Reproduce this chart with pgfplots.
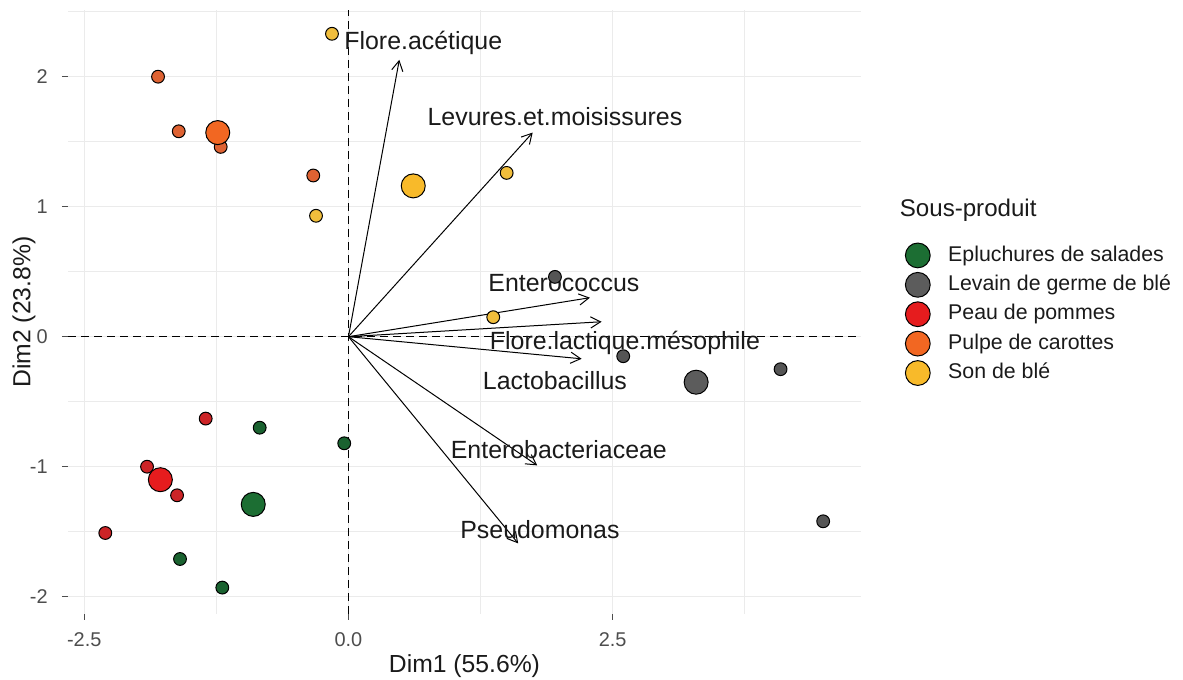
\documentclass[border=0pt]{standalone}
\usepackage{fontspec}
\setmainfont{Liberation Sans}
\usepackage{pgfplots}
\pgfplotsset{compat=1.18}
\usetikzlibrary{arrows.meta}

\definecolor{cgreen}{HTML}{1C6E33}
\definecolor{cgreenS}{HTML}{1A6230}
\definecolor{cgray}{HTML}{5C5C5C}
\definecolor{cgrayS}{HTML}{555555}
\definecolor{cred}{HTML}{E61C1E}
\definecolor{credS}{HTML}{CC2427}
\definecolor{corange}{HTML}{F26722}
\definecolor{corangeS}{HTML}{DE6232}
\definecolor{cyellow}{HTML}{F8BA2A}
\definecolor{cyellowS}{HTML}{F1BE3C}
\definecolor{gridc}{HTML}{EBEBEB}
\definecolor{tickc}{HTML}{4D4D4D}
\definecolor{txtc}{HTML}{1A1A1A}

\begin{document}
\begin{tikzpicture}
\useasboundingbox (0,0) rectangle (591.5bp,340bp);
\begin{axis}[
  at={(34bp,33.2bp)}, anchor=south west,
  scale only axis, width=396.5bp, height=301.6bp,
  xmin=-2.654, xmax=4.85, ymin=-2.13, ymax=2.51,
  axis line style={draw=none},
  xtick={-2.5,0,2.5}, xticklabels={-2.5,0.0,2.5},
  ytick={-2,-1,0,1,2}, yticklabels={-2,-1,0,1,2},
  minor xtick={-1.25,1.25,3.75}, minor ytick={-1.5,-0.5,0.5,1.5,2.5},
  grid=both,
  major grid style={draw=gridc, line width=0.6bp},
  minor grid style={draw=gridc, line width=0.35bp},
  xtick pos=lower, ytick pos=left, tick align=outside,
  major tick length=3bp, minor tick length=0pt,
  tick style={draw=tickc, line width=0.5bp},
  tick label style={font=\fontsize{10}{12}\selectfont, text=tickc},
  xticklabel style={inner sep=0pt, yshift=-6.5bp},
  yticklabel style={inner sep=0pt, xshift=-7bp},
  xlabel={Dim1 (55.6\%)}, ylabel={Dim2 (23.8\%)},
  every axis x label/.style={at={(axis description cs:0.5,-0.087)}, anchor=center, font=\fontsize{12.4}{14}\selectfont, text=txtc},
  every axis y label/.style={at={(axis description cs:-0.0555,0.5)}, rotate=90, anchor=center, font=\fontsize{12.4}{14}\selectfont, text=txtc},
  clip=false,
  legend style={at={(axis description cs:1.0555,0.615)}, anchor=north west,
    draw=none, fill=none, inner sep=0pt, row sep=2.3bp, column sep=9bp,
    font=\fontsize{10.7}{12.8}\selectfont,
    nodes={inner sep=0pt, text height=8bp, text depth=2.3bp, text=txtc}},
  legend cell align=left,
  legend image code/.code={\draw[#1] plot coordinates {(0bp,0bp)};},
]
% legend
\addlegendimage{only marks, mark=*, mark size=6.2bp, mark options={fill=cgreen, draw=black, line width=0.5bp}}
\addlegendentry{Epluchures de salades}
\addlegendimage{only marks, mark=*, mark size=6.2bp, mark options={fill=cgray, draw=black, line width=0.5bp}}
\addlegendentry{Levain de germe de blé}
\addlegendimage{only marks, mark=*, mark size=6.2bp, mark options={fill=cred, draw=black, line width=0.5bp}}
\addlegendentry{Peau de pommes}
\addlegendimage{only marks, mark=*, mark size=6.2bp, mark options={fill=corange, draw=black, line width=0.5bp}}
\addlegendentry{Pulpe de carottes}
\addlegendimage{only marks, mark=*, mark size=6.2bp, mark options={fill=cyellow, draw=black, line width=0.5bp}}
\addlegendentry{Son de blé}

% reference dashed lines
\addplot[forget plot, black, line width=0.6bp, dash pattern=on 4bp off 2.5bp] coordinates {(-2.654,0) (4.85,0)};
\addplot[forget plot, black, line width=0.6bp, dash pattern=on 4bp off 2.5bp] coordinates {(0,-2.13) (0,2.51)};

% individuals (small points)
\addplot[forget plot, only marks, mark=*, mark size=3.2bp, mark options={fill=cgreenS, draw=black, line width=0.5bp}]
  coordinates {(-0.840,-0.70) (-0.040,-0.82) (-1.594,-1.71) (-1.194,-1.93)};
\addplot[forget plot, only marks, mark=*, mark size=3.2bp, mark options={fill=credS, draw=black, line width=0.5bp}]
  coordinates {(-1.351,-0.63) (-1.906,-1.00) (-1.622,-1.22) (-2.301,-1.51)};
\addplot[forget plot, only marks, mark=*, mark size=3.2bp, mark options={fill=corangeS, draw=black, line width=0.5bp}]
  coordinates {(-1.802,2.00) (-1.606,1.58) (-1.209,1.46) (-0.333,1.24)};
\addplot[forget plot, only marks, mark=*, mark size=3.2bp, mark options={fill=cyellowS, draw=black, line width=0.5bp}]
  coordinates {(-0.156,2.33) (-0.307,0.93) (1.497,1.26) (1.370,0.15)};
\addplot[forget plot, only marks, mark=*, mark size=3.2bp, mark options={fill=cgrayS, draw=black, line width=0.5bp}]
  coordinates {(1.954,0.46) (2.600,-0.15) (4.089,-0.25) (4.492,-1.42)};

% group means (large points)
\addplot[forget plot, only marks, mark=*, mark size=6bp, mark options={fill=cgreen, draw=black, line width=0.5bp}]
  coordinates {(-0.901,-1.29)};
\addplot[forget plot, only marks, mark=*, mark size=6bp, mark options={fill=cred, draw=black, line width=0.5bp}]
  coordinates {(-1.780,-1.10)};
\addplot[forget plot, only marks, mark=*, mark size=6bp, mark options={fill=corange, draw=black, line width=0.5bp}]
  coordinates {(-1.237,1.57)};
\addplot[forget plot, only marks, mark=*, mark size=6bp, mark options={fill=cyellow, draw=black, line width=0.5bp}]
  coordinates {(0.613,1.16)};
\addplot[forget plot, only marks, mark=*, mark size=6bp, mark options={fill=cgray, draw=black, line width=0.5bp}]
  coordinates {(3.290,-0.35)};

% variable arrows
\pgfplotsset{arr/.style={forget plot, black, line width=0.5bp, -{Straight Barb[length=5bp, width=5.6bp]}}}
\addplot[arr] coordinates {(0,0) (0.481,2.13)};
\addplot[arr] coordinates {(0,0) (1.743,1.57)};
\addplot[arr] coordinates {(0,0) (2.285,0.30)};
\addplot[arr] coordinates {(0,0) (2.395,0.115)};
\addplot[arr] coordinates {(0,0) (2.206,-0.17)};
\addplot[arr] coordinates {(0,0) (1.786,-0.99)};
\addplot[arr] coordinates {(0,0) (1.606,-1.59)};

% variable labels
\begin{scope}[every node/.style={font=\fontsize{12.5}{15}\selectfont, text=txtc, anchor=center, inner sep=0pt}]
\node at (axis cs:0.708,2.26) {Flore.acétique};
\node at (axis cs:1.954,1.69) {Levures.et.moisissures};
\node at (axis cs:2.039,0.415) {Enterococcus};
\node at (axis cs:2.616,-0.05) {Flore.lactique.mésophile};
\node at (axis cs:1.954,-0.34) {Lactobacillus};
\node at (axis cs:1.991,-0.87) {Enterobacteriaceae};
\node at (axis cs:1.812,-1.48) {Pseudomonas};
\end{scope}

% legend title
\node[font=\fontsize{12.1}{14}\selectfont, text=txtc, anchor=west, inner sep=0pt]
  at (axis description cs:1.0485,0.668) {Sous-produit};
\end{axis}
\end{tikzpicture}
\end{document}
